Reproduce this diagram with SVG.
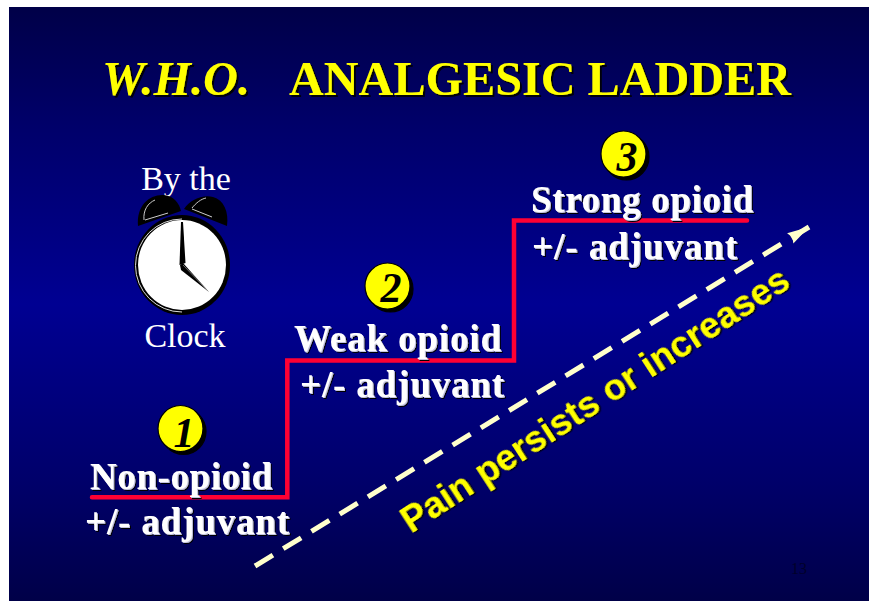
<svg xmlns="http://www.w3.org/2000/svg" width="869" height="602" viewBox="0 0 869 602">
<style>
.t{font-family:"Liberation Serif","Times New Roman",serif;font-weight:bold;fill:#fff;font-size:37px;filter:url(#s2)}
.c{font-family:"Liberation Serif","Times New Roman",serif;fill:#fff;font-size:34px;text-anchor:middle}
.h{font-family:"Liberation Serif","Times New Roman",serif;font-weight:bold;fill:#ff0;font-size:48px;filter:url(#s1)}
.n{font-family:"Liberation Serif","Times New Roman",serif;font-weight:bold;font-style:italic;fill:#000;font-size:42px;text-anchor:middle}
.b{fill:#ff0;stroke:#000;stroke-width:1.2;filter:url(#s3)}
</style>
<defs>
<linearGradient id="bg" x1="0" y1="0" x2="0" y2="1">
<stop offset="0" stop-color="#000048"/><stop offset="0.2" stop-color="#00006a"/><stop offset="0.5" stop-color="#000092"/><stop offset="0.8" stop-color="#00006a"/><stop offset="1" stop-color="#000048"/>
</linearGradient>
<filter id="s1" x="-10%" y="-20%" width="120%" height="140%"><feDropShadow dx="2" dy="2" stdDeviation="0.3" flood-color="#000" flood-opacity="0.9"/></filter>
<filter id="s2" x="-10%" y="-20%" width="120%" height="140%">
<feFlood flood-color="#000"/><feComposite in2="SourceAlpha" operator="in"/><feOffset dx="2" dy="2" result="k"/>
<feFlood flood-color="#c4c4e0"/><feComposite in2="SourceAlpha" operator="in"/><feOffset dx="0.8" dy="0.8" result="g"/>
<feMerge><feMergeNode in="k"/><feMergeNode in="g"/><feMergeNode in="SourceGraphic"/></feMerge>
</filter>
<filter id="s3" x="-20%" y="-20%" width="140%" height="140%"><feDropShadow dx="3" dy="3" stdDeviation="0.3" flood-color="#000"/></filter>
<filter id="s4" x="-10%" y="-20%" width="120%" height="140%"><feDropShadow dx="1.5" dy="1.5" stdDeviation="0.3" flood-color="#000" flood-opacity="0.9"/></filter>
<marker id="ah" markerUnits="userSpaceOnUse" markerWidth="24" markerHeight="20" refX="22" refY="10" orient="auto"><path d="M0 4 L22 10 L0 16 L2.5 10Z" fill="#ffffcc"/></marker>
</defs>
<rect x="9" y="7" width="860" height="594" fill="url(#bg)"/>
<g id="title">
<text class="h" x="102" y="95" font-style="italic" textLength="148" lengthAdjust="spacingAndGlyphs">W.H.O.</text>
<text class="h" x="289" y="95" textLength="502" lengthAdjust="spacingAndGlyphs">ANALGESIC LADDER</text>
</g>
<g id="clock">
<text class="c" x="186" y="190">By the</text>
<path d="M138 226 C136 205 150 194 164 195 C174 196 179 203 181 211 Z" fill="#000"/>
<path d="M184 209 C190 199 204 194 213 197 C224 200 229 212 227 226 Z" fill="#000"/>
<path d="M144 220 C143 210 148 203 155 200 M145 220 L168 213" fill="none" stroke="#ccc" stroke-width="1"/>
<path d="M192 208 C196 203 201 199 206 198 M192 209 L212 217" fill="none" stroke="#ccc" stroke-width="1"/>
<ellipse cx="182" cy="265" rx="48" ry="50" fill="#000"/>
<ellipse cx="182" cy="265" rx="44" ry="45" fill="#fff"/>
<path d="M182 219 A46 46 0 0 0 182 312" fill="none" stroke="#ddd" stroke-width="1"/>
<path d="M181 222 L183 222 L185.500 263 L179.500 265Z" fill="#000"/>
<path d="M180 265 L183 263 L209 292 L181 270Z" fill="#000"/>
<path d="M183 265 L207 290" fill="none" stroke="#999" stroke-width="0.7"/>
<text class="c" x="185" y="347">Clock</text>
</g>
<g id="connectors" fill="none">
<path d="M92 497.300 H287.300 V360.500 H514 V220.500 H747" stroke="#ff0033" stroke-width="4.500" stroke-linecap="round" stroke-linejoin="miter"/>
<path d="M255 566 L809 227" stroke="#ffffcc" stroke-width="5" stroke-dasharray="21 12.100" marker-end="url(#ah)"/>
</g>
<g id="step1">
<ellipse class="b" cx="180.500" cy="428.500" rx="22.500" ry="23"/>
<text class="n" x="184" y="447">1</text>
<text class="t" x="90" y="489" textLength="182">Non-opioid</text>
<text class="t" x="85" y="534" textLength="204">+/- adjuvant</text>
</g>
<g id="step2">
<ellipse class="b" cx="387.500" cy="286" rx="22.500" ry="23"/>
<text class="n" x="391" y="302">2</text>
<text class="t" x="294" y="351" textLength="207">Weak opioid</text>
<text class="t" x="300" y="397" textLength="204">+/- adjuvant</text>
</g>
<g id="step3">
<ellipse class="b" cx="623.500" cy="154" rx="22.500" ry="23"/>
<text class="n" x="627" y="171">3</text>
<text class="t" x="531" y="212" textLength="222">Strong opioid</text>
<text class="t" x="532" y="259" textLength="205">+/- adjuvant</text>
</g>
<g id="pain">
<text transform="translate(411 534) rotate(-33)" font-family="Liberation Sans,Arial,sans-serif" font-weight="bold" font-size="36.700" fill="#ff0" filter="url(#s4)">Pain persists or increases</text>
</g>
<text id="page" x="791" y="574" font-family="Liberation Serif,serif" font-size="16" fill="#00002a">13</text>
</svg>
